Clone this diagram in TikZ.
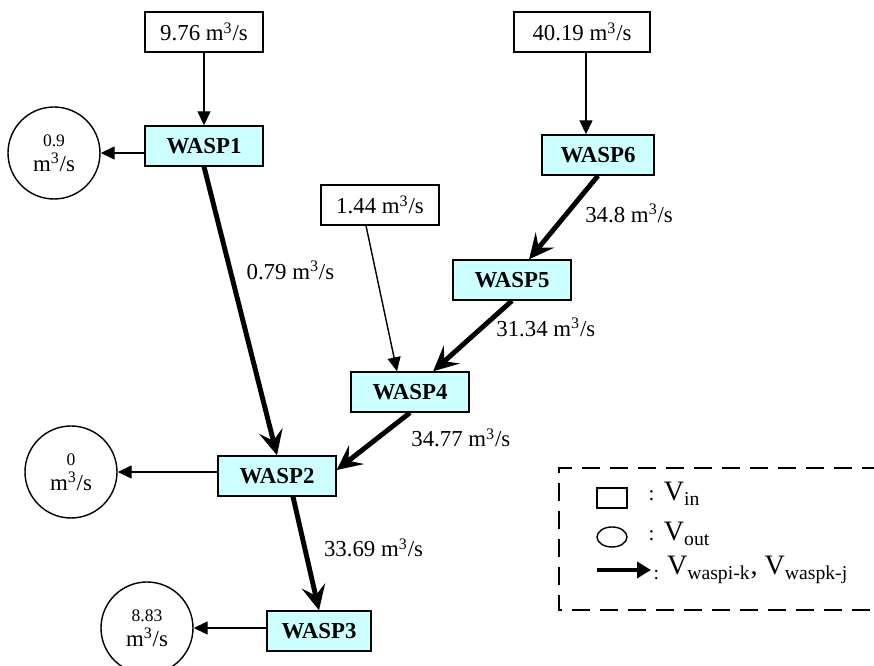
\documentclass[tikz,border=0pt]{standalone}
\usepackage{fontspec}
\setmainfont{Liberation Serif}
\usetikzlibrary{arrows.meta}

\definecolor{waspcyan}{HTML}{CCFFFF}
\newcommand{\flowunit}{m\textsuperscript{3}/s}
\tikzset{
  waspbox/.style={draw, thick, fill=waspcyan, font=\fontsize{13}{15}\selectfont\bfseries, minimum width=2.36cm, minimum height=0.8cm},
  inbox/.style={draw, thick, fill=white, font=\fontsize{13}{15}\selectfont, minimum width=2.36cm, minimum height=0.8cm},
  outcirc/.style={draw, thick, circle, minimum size=1.84cm, inner sep=0pt, align=center, font=\fontsize{13}{14}\selectfont},
  thinflow/.style={line width=0.8pt, -{Triangle[length=0.28cm, width=0.26cm]}},
  bigflow/.style={line width=2.8pt, -{Stealth[length=0.5cm, width=0.48cm, inset=0.2cm]}},
  flowlabel/.style={font=\fontsize{13}{15}\selectfont}
}

\begin{document}
\begin{tikzpicture}
    \useasboundingbox (0,0) rectangle (17.48,-13.32);
    % Input boxes
    \node[inbox] (in1) at (4.08,-0.64) {9.76 \flowunit};
    \node[inbox, minimum width=2.72cm] (in6) at (11.64,-0.64) {40.19 \flowunit};
    \node[inbox] (in4) at (7.60,-4.10) {1.44 \flowunit};
    % WASP segments
    \node[waspbox] (wasp1) at (4.08,-2.92) {WASP1};
    \node[waspbox, minimum width=2.24cm] (wasp6) at (11.96,-3.10) {WASP6};
    \node[waspbox] (wasp5) at (10.24,-5.60) {WASP5};
    \node[waspbox] (wasp4) at (8.20,-7.84) {WASP4};
    \node[waspbox] (wasp2) at (5.54,-9.52) {WASP2};
    \node[waspbox, minimum width=2.08cm] (wasp3) at (6.38,-12.62) {WASP3};
    % Outflow circles
    \node[outcirc] (out1) at (1.08,-3.06) {{\fontsize{10}{11}\selectfont 0.9}\\\flowunit};
    \node[outcirc] (out2) at (1.42,-9.44) {{\fontsize{10}{11}\selectfont 0}\\\flowunit};
    \node[outcirc] (out3) at (2.94,-12.56) {{\fontsize{10}{11}\selectfont 8.83}\\\flowunit};
    % Thin connectors
    \draw[thinflow] (in1) -- (wasp1);
    \draw[thinflow] ([xshift=0.08cm]in6.south) -- ([xshift=0.08cm]in6.south |- wasp6.north);
    \draw[thinflow] ([xshift=-0.28cm]in4.south) -- ([xshift=-0.26cm]wasp4.north);
    \draw[thinflow] (wasp1.west |- out1) -- (out1);
    \draw[thinflow] (wasp2.west |- out2) -- (out2);
    \draw[thinflow] (wasp3.west |- out3) -- (out3);
    % Thick connectors between segments
    \draw[bigflow] (wasp1.south) -- (wasp2.north) node[flowlabel, pos=0.36, right=0.16cm] {0.79 \flowunit};
    \draw[bigflow] (wasp6.south) -- (wasp5) node[flowlabel, pos=0.45, right=0.2cm] {34.8 \flowunit};
    \draw[bigflow] (wasp5.south) -- (wasp4) node[flowlabel, pos=0.38, right=0.12cm] {31.34 \flowunit};
    \draw[bigflow] (wasp4.south) -- ([yshift=0.12cm]wasp2.east) node[flowlabel, pos=0.3, anchor=west, xshift=0.3cm, yshift=-0.16cm] {34.77 \flowunit};
    \draw[bigflow] ([xshift=0.32cm]wasp2.south) -- (wasp3.north) node[flowlabel, pos=0.45, right=0.22cm] {33.69 \flowunit};
    % Legend
    \draw[thick, dashed, dash pattern=on 0.36cm off 0.2cm] (17.6,-9.36) -- (11.18,-9.36) -- (11.18,-12.2) -- (17.6,-12.2);
    \draw[thick] (11.94,-9.76) rectangle (12.54,-10.16);
    \draw[thick] (12.24,-10.74) ellipse (0.3cm and 0.2cm);
    \draw[line width=2.4pt, -{Triangle[length=0.28cm, width=0.32cm]}] (11.94,-11.4) -- (13.02,-11.4);
    \node[anchor=west, font=\fontsize{16}{18}\selectfont] (lin) at (12.85,-9.88) {{\fontsize{12}{12}\selectfont:} V\textsubscript{in}};
    \node[anchor=west, font=\fontsize{16}{18}\selectfont] (lout) at (12.85,-10.68) {{\fontsize{12}{12}\selectfont:} V\textsubscript{out}};
    \node[anchor=west, font=\fontsize{16}{18}\selectfont] (lflow) at (12.95,-11.4) {\textsubscript{:} V\textsubscript{waspi-k}, V\textsubscript{waspk-j}};
\end{tikzpicture}
\end{document}
